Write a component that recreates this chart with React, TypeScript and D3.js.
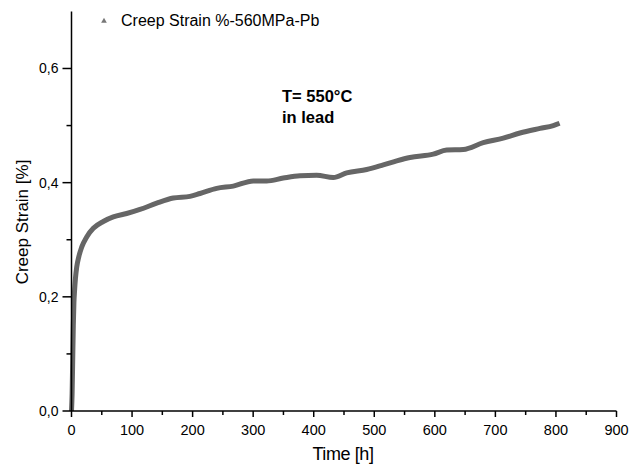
import React from "react";
import * as d3 from "d3";

const timeH = [0, 1, 2, 3, 4, 5, 6.5, 8.6, 12, 16.8, 25.1, 36, 52.5, 69, 91.1, 113, 140.7, 168.1, 195.6, 212.2, 239.8, 267.2, 300.2, 322.3, 349.7, 377.3, 404.9, 432.3, 454.4, 487.5, 514.9, 537, 559, 597.4, 619.6, 647, 680, 713, 740.6, 773.6, 795.6, 806];
const strain = [0, 0.03, 0.09, 0.15, 0.19, 0.21, 0.232, 0.252, 0.27, 0.287, 0.305, 0.32, 0.332, 0.34, 0.346, 0.353, 0.364, 0.373, 0.376, 0.381, 0.39, 0.394, 0.403, 0.403, 0.408, 0.412, 0.413, 0.409, 0.417, 0.423, 0.431, 0.438, 0.444, 0.45, 0.457, 0.458, 0.47, 0.478, 0.487, 0.495, 0.5, 0.504];
const xTicks = [0, 100, 200, 300, 400, 500, 600, 700, 800, 900];
const xMinor = [50, 150, 250, 350, 450, 550, 650, 750, 850];
const yTicks = [0, 0.2, 0.4, 0.6];
const yMinor = [0.1, 0.3, 0.5];
const legendLabel = "Creep Strain %-560MPa-Pb";
const noteLines = ["T= 550°C", "in lead"];

export default function App() {
  const W = 634, H = 465;
  const x = d3.scaleLinear().domain([0, 900]).range([71.5, 616.5]);
  const y = d3.scaleLinear().domain([0, 0.7]).range([411, 11.4]);
  const pts = timeH.map((t, i) => [t, strain[i]] as [number, number]);
  const line = d3.line<[number, number]>().x(d => x(d[0])).y(d => y(d[1])).curve(d3.curveMonotoneX);
  const font = "'Liberation Sans', Arial, sans-serif";
  return (
    <svg width={W} height={H} style={{ position: "absolute", left: 0, top: 0, background: "#fff" }} fontFamily={font}>
      <path d={line(pts) || ""} fill="none" stroke="#666" strokeWidth={5} strokeLinejoin="round" />
      <line x1={x(0)} x2={x(0)} y1={y(0.7)} y2={y(0)} stroke="#000" strokeWidth={1.5} />
      <line x1={x(0)} x2={x(900)} y1={y(0)} y2={y(0)} stroke="#000" strokeWidth={1.5} />
      {xTicks.map(t => (
        <g key={"xt" + t}>
          <line x1={x(t)} x2={x(t)} y1={y(0)} y2={y(0) + 6} stroke="#000" strokeWidth={1.5} />
          <text x={x(t)} y={435} fontSize={14.5} textAnchor="middle">{t}</text>
        </g>
      ))}
      {xMinor.map(t => (
        <line key={"xm" + t} x1={x(t)} x2={x(t)} y1={y(0)} y2={y(0) + 4} stroke="#000" strokeWidth={1.5} />
      ))}
      {yTicks.map(v => (
        <g key={"yt" + v}>
          <line x1={x(0) - 9} x2={x(0)} y1={y(v)} y2={y(v)} stroke="#000" strokeWidth={1.5} />
          <text x={x(0) - 13} y={y(v) + 5} fontSize={14} textAnchor="end">{v.toFixed(1).replace(".", ",")}</text>
        </g>
      ))}
      {yMinor.map(v => (
        <line key={"ym" + v} x1={x(0) - 5} x2={x(0)} y1={y(v)} y2={y(v)} stroke="#000" strokeWidth={1.5} />
      ))}
      <text x={343} y={460} fontSize={18} letterSpacing={-0.4} textAnchor="middle">Time [h]</text>
      <text transform="translate(28,222) rotate(-90)" fontSize={17} textAnchor="middle">Creep Strain [%]</text>
      <path d={d3.symbol().type(d3.symbolTriangle).size(14)() || ""} transform="translate(104,21)" fill="#777" />
      <text x={121} y={26} fontSize={16}>{legendLabel}</text>
      {noteLines.map((s, i) => (
        <text key={s} x={282} y={102 + i * 21} fontSize={16.5} fontWeight="bold">{s}</text>
      ))}
    </svg>
  );
}
